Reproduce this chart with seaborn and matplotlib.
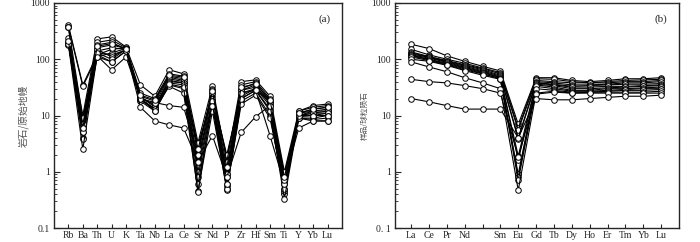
import matplotlib
matplotlib.use('Agg')
import matplotlib.pyplot as plt
import matplotlib.ticker as mticker
import numpy as np
import pandas as pd
import seaborn as sns

sns.set_style('ticks')
plt.rcParams['font.family'] = ['Liberation Serif', 'Noto Sans CJK SC', 'DejaVu Sans']

# (a) 原始地幔标准化蛛网图
elem_a = ['Rb', 'Ba', 'Th', 'U', 'K', 'Ta', 'Nb', 'La', 'Ce', 'Sr',
          'Nd', 'P', 'Zr', 'Hf', 'Sm', 'Ti', 'Y', 'Yb', 'Lu']
samples_a = [
    [400, 35, 120, 150, 160, 22, 14, 45, 40, 2.5, 25, 1.8, 28, 32, 18, 0.8, 11, 12, 12],
    [380, 33, 110, 130, 155, 20, 13, 42, 38, 3.0, 22, 2.0, 25, 30, 17, 0.9, 10, 11, 11],
    [240, 10, 230, 250, 165, 35, 22, 65, 55, 3.3, 33, 1.5, 40, 43, 22, 1.0, 12, 15, 16],
    [200, 8, 200, 220, 160, 25, 20, 55, 50, 2.0, 30, 0.9, 35, 40, 20, 0.6, 12, 14, 15],
    [190, 7, 180, 200, 150, 22, 18, 50, 45, 1.5, 28, 0.8, 30, 38, 18, 0.5, 11, 13, 14],
    [185, 6, 160, 180, 155, 20, 16, 48, 42, 1.2, 25, 0.6, 28, 35, 16, 0.45, 10, 12, 13],
    [380, 9, 140, 160, 150, 21, 15, 40, 38, 1.0, 20, 0.55, 22, 30, 15, 0.42, 10, 11, 12],
    [370, 5, 130, 120, 145, 19, 13, 38, 35, 0.8, 18, 0.5, 20, 28, 13, 0.4, 9.5, 10, 11],
    [200, 4, 150, 110, 150, 18, 12, 35, 30, 0.6, 15, 0.47, 18, 25, 10, 0.45, 9, 9, 10],
    [190, 3.8, 120, 90, 140, 20, 13, 33, 25, 0.45, 12, 0.5, 16, 23, 9, 0.5, 9, 8.5, 9],
    [180, 2.5, 115, 65, 110, 20, 12, 36, 32, 0.43, 18, 0.6, 20, 28, 12, 0.33, 9, 8, 8],
    [200, 7, 130, 100, 150, 20, 17, 15, 14, 2.0, 15, 0.9, 25, 28, 4.4, 0.6, 10, 10, 10],
    [190, 5, 110, 90, 140, 14, 8, 6.8, 6, 1.5, 4.4, 0.8, 5, 9.5, 15, 0.7, 6, 8, 8],
    [210, 6, 170, 190, 155, 23, 19, 52, 48, 2.5, 27, 1.2, 32, 36, 19, 0.8, 11, 13, 14],
]

# (b) 球粒陨石标准化稀土配分图 (第5个位置无标签)
elem_b = ['La', 'Ce', 'Pr', 'Nd', '', 'Sm', 'Eu', 'Gd', 'Tb', 'Dy',
          'Ho', 'Er', 'Tm', 'Yb', 'Lu']
samples_b = [
    [185, 155, 115, 92, 75, 62, 7.0, 47, 47, 42, 40, 42, 45, 45, 47],
    [150, 120, 100, 85, 70, 58, 6.0, 45, 44, 40, 38, 40, 42, 43, 44],
    [135, 112, 95, 80, 68, 55, 5.5, 42, 40, 38, 38, 38, 40, 40, 42],
    [130, 110, 92, 78, 65, 52, 4.0, 40, 38, 35, 35, 36, 38, 38, 40],
    [125, 108, 90, 75, 62, 50, 3.8, 38, 36, 33, 34, 35, 36, 36, 37],
    [120, 105, 88, 72, 60, 48, 1.9, 38, 35, 32, 32, 33, 33, 34, 35],
    [118, 100, 85, 70, 58, 47, 1.6, 36, 34, 30, 30, 31, 32, 33, 34],
    [115, 98, 82, 68, 56, 45, 0.9, 35, 32, 28, 28, 30, 30, 31, 32],
    [110, 95, 80, 65, 55, 45, 0.8, 33, 30, 27, 27, 28, 29, 30, 30],
    [100, 92, 78, 63, 52, 44, 0.7, 30, 28, 26, 26, 27, 28, 28, 29],
    [90, 73, 60, 47, 38, 30, 0.47, 25, 27, 25, 26, 26, 26, 26, 27],
    [44, 40, 38, 34, 30, 25, 1.8, 24, 26, 25, 25, 25, 25, 25, 25],
    [20, 17.5, 15, 13, 13, 13, 4.0, 20, 19, 19, 20, 21, 22, 22, 23],
]

ylabel_a = '岩石/原始地幔'
ylabel_b = '样品/球粒陨石'
ytick_vals = [0.1, 1, 10, 100, 1000]
ytick_a = ['0.1', '1', '10', '100', '1000']
ytick_b = ['0. 1', '1', '10', '100', '1000']


def to_long(samples):
    rows = []
    for i, s in enumerate(samples):
        for j, v in enumerate(s):
            rows.append({'sample': i, 'pos': j, 'val': v})
    return pd.DataFrame(rows)


def spider(ax, samples, labels, ytl, ylabel, tag, xlim, ylab_size, ylab_x):
    df = to_long(samples)
    sns.lineplot(data=df, x='pos', y='val', units='sample', estimator=None,
                 sort=False, color='black', lw=0.8, marker='o', ms=4,
                 mfc='white', mec='black', mew=0.7, ax=ax, legend=False)
    ax.set_yscale('log')
    ax.set_ylim(0.1, 1000)
    ax.set_xlim(*xlim)
    ax.set_xticks(range(len(labels)))
    ax.set_xticklabels(labels, fontsize=7)
    ax.yaxis.set_major_locator(mticker.FixedLocator(ytick_vals))
    ax.yaxis.set_major_formatter(mticker.FixedFormatter(ytl))
    ax.yaxis.set_minor_locator(mticker.LogLocator(base=10, subs=np.arange(2, 10)))
    ax.yaxis.set_minor_formatter(mticker.NullFormatter())
    ax.tick_params(axis='y', which='major', direction='in', length=4, width=0.8,
                   labelsize=7, pad=3)
    ax.tick_params(axis='y', which='minor', direction='in', length=2.5, width=0.6)
    ax.tick_params(axis='x', direction='in', length=3, width=0.8, pad=2.5)
    for sp in ax.spines.values():
        sp.set_linewidth(1.0)
        sp.set_visible(True)
    ax.set_xlabel('')
    ax.set_ylabel('')
    ax.text(0.96, 0.93, tag, transform=ax.transAxes, ha='right', va='center',
            fontsize=8)
    ax.text(ylab_x, 0.5, ylabel, transform=ax.transAxes, rotation=90,
            ha='center', va='center', fontsize=ylab_size, color='#555555',
            family=['Noto Sans CJK SC', 'DejaVu Sans'])


fig = plt.figure(figsize=(7, 2.42), dpi=100)
ax1 = fig.add_axes([54 / 700, 1 - 228 / 242, 288 / 700, 225 / 242])
ax2 = fig.add_axes([395 / 700, 1 - 228 / 242, 284 / 700, 225 / 242])

spider(ax1, samples_a, elem_a, ytick_a, ylabel_a, '(a)', (-1, 19), 7, -0.105)
spider(ax2, samples_b, elem_b, ytick_b, ylabel_b, '(b)', (-0.9, 15.0), 5.5, -0.105)

fig.savefig('out.png', dpi=100)
